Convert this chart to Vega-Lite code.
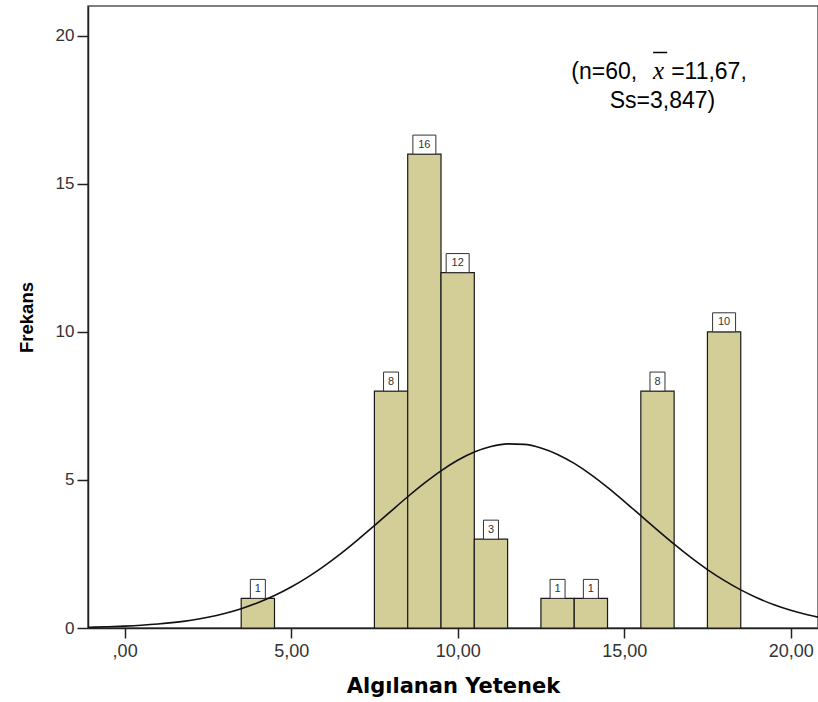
{
  "$schema": "https://vega.github.io/schema/vega-lite/v6.json",
  "width": 730,
  "height": 622,
  "autosize": "none",
  "padding": {"left": 88, "top": 6, "right": 0, "bottom": 74},
  "background": "white",
  "config": {
    "view": {"stroke": "#555555", "strokeWidth": 1.5},
    "axis": {"grid": false, "domainColor": "#222222", "domainWidth": 1.5, "tickColor": "#222222", "tickWidth": 1.5, "labelColor": "#333333", "labelFont": "Liberation Sans", "titleColor": "#000000"}
  },
  "datasets": {
    "bars": [
      {"value": 4, "lo": 3.5, "hi": 4.5, "count": 1},
      {"value": 8, "lo": 7.5, "hi": 8.5, "count": 8},
      {"value": 9, "lo": 8.5, "hi": 9.5, "count": 16},
      {"value": 10, "lo": 9.5, "hi": 10.5, "count": 12},
      {"value": 11, "lo": 10.5, "hi": 11.5, "count": 3},
      {"value": 13, "lo": 12.5, "hi": 13.5, "count": 1},
      {"value": 14, "lo": 13.5, "hi": 14.5, "count": 1},
      {"value": 16, "lo": 15.5, "hi": 16.5, "count": 8},
      {"value": 18, "lo": 17.5, "hi": 18.5, "count": 10}
    ],
    "curve": [
      {"x": -1.5, "y": 0.018}, {"x": -1, "y": 0.027}, {"x": -0.5, "y": 0.042}, {"x": 0, "y": 0.063},
      {"x": 0.5, "y": 0.092}, {"x": 1, "y": 0.133}, {"x": 1.5, "y": 0.189}, {"x": 2, "y": 0.264},
      {"x": 2.5, "y": 0.363}, {"x": 3, "y": 0.491}, {"x": 3.5, "y": 0.652}, {"x": 4, "y": 0.853},
      {"x": 4.5, "y": 1.096}, {"x": 5, "y": 1.384}, {"x": 5.5, "y": 1.719}, {"x": 6, "y": 2.1},
      {"x": 6.5, "y": 2.522}, {"x": 7, "y": 2.978}, {"x": 7.5, "y": 3.458}, {"x": 8, "y": 3.947},
      {"x": 8.5, "y": 4.431}, {"x": 9, "y": 4.89}, {"x": 9.5, "y": 5.307}, {"x": 10, "y": 5.663},
      {"x": 10.5, "y": 5.941}, {"x": 11, "y": 6.128}, {"x": 11.5, "y": 6.216}, {"x": 12, "y": 6.199},
      {"x": 12.5, "y": 6.079}, {"x": 13, "y": 5.861}, {"x": 13.5, "y": 5.556}, {"x": 14, "y": 5.179},
      {"x": 14.5, "y": 4.747}, {"x": 15, "y": 4.278}, {"x": 15.5, "y": 3.791}, {"x": 16, "y": 3.303},
      {"x": 16.5, "y": 2.829}, {"x": 17, "y": 2.383}, {"x": 17.5, "y": 1.973}, {"x": 18, "y": 1.607},
      {"x": 18.5, "y": 1.287}, {"x": 19, "y": 1.013}, {"x": 19.5, "y": 0.784}, {"x": 20, "y": 0.597},
      {"x": 20.5, "y": 0.447}, {"x": 21, "y": 0.329}
    ]
  },
  "layer": [
    {
      "data": {"name": "bars"},
      "mark": {"type": "bar", "fill": "#d3ce97", "stroke": "#1a1a1a", "strokeWidth": 1.2},
      "encoding": {
        "x": {
          "field": "lo", "type": "quantitative",
          "scale": {"domain": [-1.1, 20.82], "nice": false, "zero": false},
          "axis": {
            "values": [0, 5, 10, 15, 20],
            "labelExpr": "datum.value == 0 ? ',00' : replace(format(datum.value, '.2f'), '.', ',')",
            "tickSize": 10, "labelFontSize": 18, "labelPadding": 4,
            "title": "Algılanan Yetenek", "titleFont": "DejaVu Sans", "titleFontWeight": "bold", "titleFontSize": 21,
            "titleY": 64, "titleBaseline": "alphabetic"
          }
        },
        "x2": {"field": "hi"},
        "y": {
          "field": "count", "type": "quantitative",
          "scale": {"domain": [0, 21], "nice": false},
          "axis": {
            "values": [0, 5, 10, 15, 20], "format": "d",
            "tickSize": 11, "labelFontSize": 17, "labelPadding": 3,
            "title": "Frekans", "titleFont": "Liberation Sans", "titleFontWeight": "bold", "titleFontSize": 18.5,
            "titleX": -56, "titleBaseline": "alphabetic"
          }
        },
        "y2": {"datum": 0}
      }
    },
    {
      "data": {"name": "curve"},
      "mark": {"type": "line", "color": "#111111", "strokeWidth": 1.6, "interpolate": "monotone", "clip": true},
      "encoding": {
        "x": {"field": "x", "type": "quantitative"},
        "y": {"field": "y", "type": "quantitative"}
      }
    },
    {
      "data": {"name": "bars"},
      "mark": {"type": "point", "filled": true, "fill": "white", "stroke": "#333333", "strokeWidth": 1, "opacity": 1, "size": 400},
      "encoding": {
        "x": {"field": "value", "type": "quantitative"},
        "y": {"field": "count", "type": "quantitative"},
        "shape": {
          "condition": {"test": "datum.count >= 10", "value": "M-1.15,-1.9H1.15V0H-1.15Z"},
          "value": "M-0.75,-1.9H0.75V0H-0.75Z"
        }
      }
    },
    {
      "data": {"name": "bars"},
      "mark": {"type": "text", "font": "Liberation Sans", "fontSize": 11, "fill": "#333333", "dy": -9.5, "baseline": "middle", "align": "center"},
      "encoding": {
        "x": {"field": "value", "type": "quantitative"},
        "y": {"field": "count", "type": "quantitative"},
        "text": {"field": "count", "type": "quantitative"}
      }
    },
    {
      "data": {"values": [{"x": 15.39, "y": 18.55, "label": "(n=60,"}]},
      "mark": {"type": "text", "font": "Liberation Sans", "fontSize": 23, "fill": "#000000", "align": "right", "baseline": "alphabetic"},
      "encoding": {
        "x": {"field": "x", "type": "quantitative"},
        "y": {"field": "y", "type": "quantitative"},
        "text": {"field": "label"}
      }
    },
    {
      "data": {"values": [{"x": 16.03, "y": 18.55, "label": "x"}]},
      "mark": {"type": "text", "font": "Liberation Serif", "fontStyle": "italic", "fontSize": 25, "fill": "#000000", "align": "center", "baseline": "alphabetic"},
      "encoding": {
        "x": {"field": "x", "type": "quantitative"},
        "y": {"field": "y", "type": "quantitative"},
        "text": {"field": "label"}
      }
    },
    {
      "data": {"values": [{"x": 15.87, "x2": 16.29, "y": 19.43}]},
      "mark": {"type": "rule", "color": "#000000", "strokeWidth": 1.5},
      "encoding": {
        "x": {"field": "x", "type": "quantitative"},
        "x2": {"field": "x2"},
        "y": {"field": "y", "type": "quantitative"}
      }
    },
    {
      "data": {"values": [{"x": 16.41, "y": 18.55, "label": "=11,67,"}]},
      "mark": {"type": "text", "font": "Liberation Sans", "fontSize": 23, "fill": "#000000", "align": "left", "baseline": "alphabetic"},
      "encoding": {
        "x": {"field": "x", "type": "quantitative"},
        "y": {"field": "y", "type": "quantitative"},
        "text": {"field": "label"}
      }
    },
    {
      "data": {"values": [{"x": 16.15, "y": 17.57, "label": "Ss=3,847)"}]},
      "mark": {"type": "text", "font": "Liberation Sans", "fontSize": 23, "fill": "#000000", "align": "center", "baseline": "alphabetic"},
      "encoding": {
        "x": {"field": "x", "type": "quantitative"},
        "y": {"field": "y", "type": "quantitative"},
        "text": {"field": "label"}
      }
    }
  ]
}
